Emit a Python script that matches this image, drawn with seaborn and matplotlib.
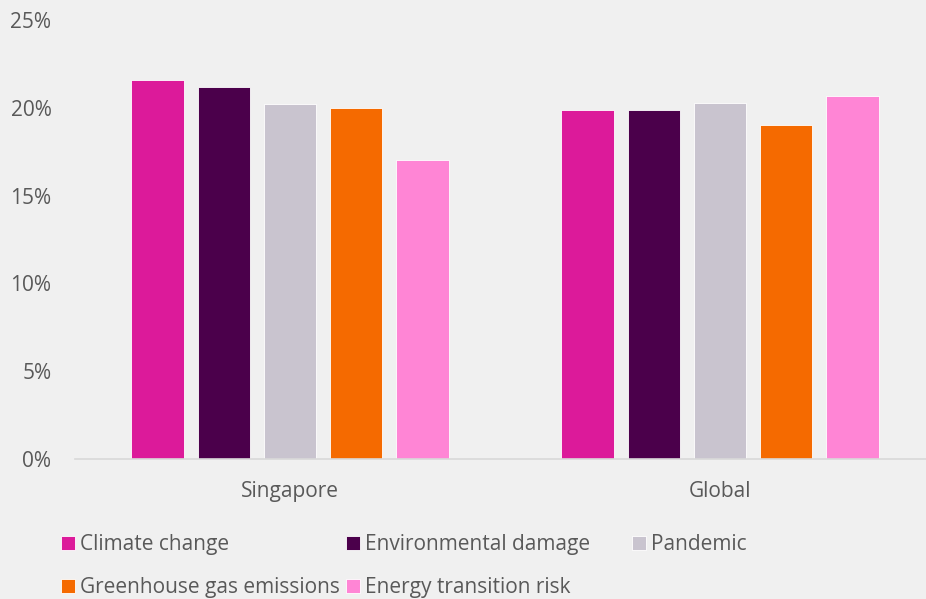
import pandas as pd
import matplotlib.pyplot as plt
import seaborn as sns
from matplotlib.ticker import PercentFormatter

# data
regions = ['Singapore', 'Global']
risks = ['Climate change', 'Environmental damage', 'Pandemic',
         'Greenhouse gas emissions', 'Energy transition risk']
singapore = [21.6, 21.2, 20.2, 20.0, 17.0]
global_vals = [19.9, 19.9, 20.3, 19.0, 20.7]
colors = ['#DC1A9A', '#4B004B', '#C9C4CF', '#F56A00', '#FF85D5']

rows = []
for region, vals in zip(regions, [singapore, global_vals]):
    for risk, v in zip(risks, vals):
        rows.append({'region': region, 'risk': risk, 'share': v})
df = pd.DataFrame(rows)

sns.set_theme(style='white')
plt.rcParams['font.family'] = ['Open Sans', 'DejaVu Sans']
bg = '#F0F0F0'
txt = '#595959'

fig = plt.figure(figsize=(9.26, 5.99), dpi=100, facecolor=bg)
ax = fig.add_axes([75 / 926, 1 - 459 / 599, 860 / 926, 439 / 599], facecolor=bg)

sns.barplot(data=df, x='region', y='share', hue='risk', order=regions,
            hue_order=risks, palette=colors, saturation=1, width=0.77, gap=0.21,
            edgecolor='white', linewidth=0.6, ax=ax)

ax.set_ylim(0, 25)
ax.set_xlim(-0.5, 1.5)
ax.set_yticks([0, 5, 10, 15, 20, 25])
ax.yaxis.set_major_formatter(PercentFormatter(decimals=0))
ax.set_xlabel('')
ax.set_ylabel('')
ax.tick_params(axis='y', length=0, labelsize=15, labelcolor=txt, pad=17)
ax.tick_params(axis='x', length=0, labelsize=15, labelcolor=txt, pad=16)
for s in ['top', 'right', 'left']:
    ax.spines[s].set_visible(False)
ax.spines['bottom'].set_color('#D9D9D9')
ax.spines['bottom'].set_linewidth(1.2)

# legend laid out in fixed columns like the original
handles, labels = ax.get_legend_handles_labels()
ax.get_legend().remove()
columns = [[0, 3], [1, 4], [2]]
col_x = [61 / 926, 346 / 926, 632 / 926]
for cx, idx in zip(col_x, columns):
    fig.legend([handles[i] for i in idx], [labels[i] for i in idx],
               loc='upper left', bbox_to_anchor=(cx, 1 - 534 / 599),
               frameon=False, fontsize=15, labelcolor=txt,
               handlelength=0.65, handleheight=0.65, handletextpad=0.25,
               labelspacing=1.08, borderaxespad=0, borderpad=0)

plt.savefig('out.png', dpi=100, facecolor=bg)
